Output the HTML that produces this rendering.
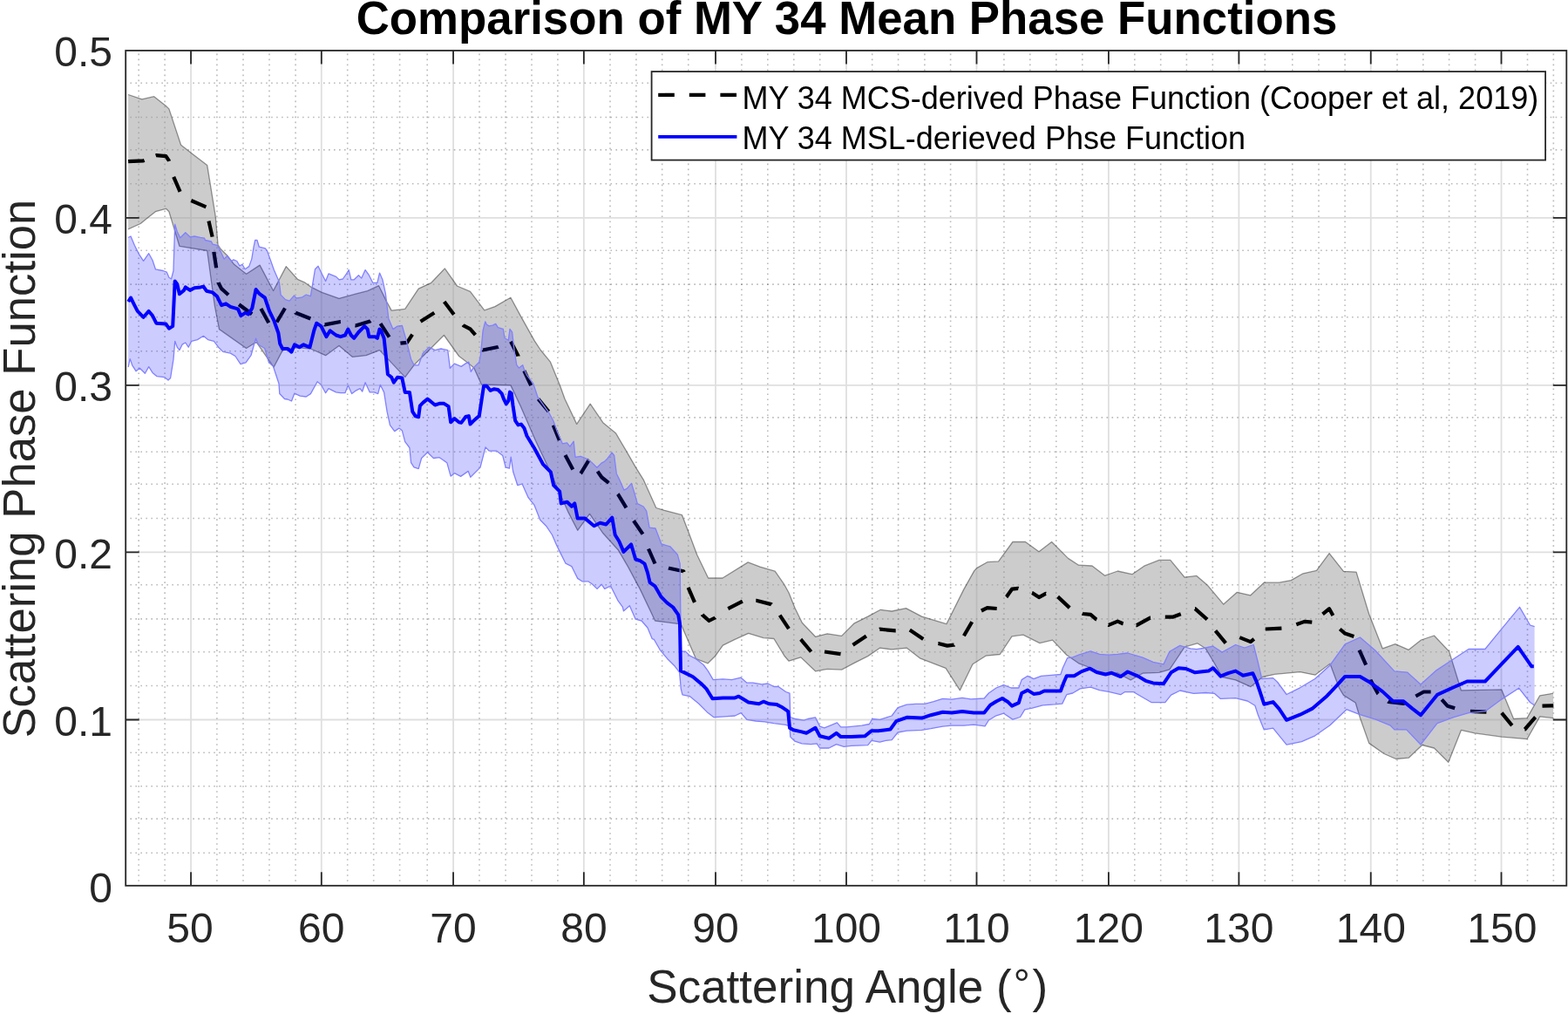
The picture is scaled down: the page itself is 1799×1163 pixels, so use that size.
<!DOCTYPE html>
<html><head><meta charset="utf-8"><title>Comparison of MY 34 Mean Phase Functions</title><style>html,body{margin:0;padding:0;background:#fff;width:1799px;height:1163px;overflow:hidden}</style></head><body>
<svg width="1799" height="1163" viewBox="0 0 1799 1163" style="display:block">
<rect x="0" y="0" width="1799" height="1163" fill="#fff"/>
<path d="M159.15 58.00V1015.80M189.10 58.00V1015.80M248.90 58.00V1015.80M279.00 58.00V1015.80M309.00 58.00V1015.80M339.10 58.00V1015.80M398.70 58.00V1015.80M428.70 58.00V1015.80M458.60 58.00V1015.80M490.20 58.00V1015.80M550.00 58.00V1015.80M580.10 58.00V1015.80M610.00 58.00V1015.80M639.90 58.00V1015.80M700.00 58.00V1015.80M729.90 58.00V1015.80M759.70 58.00V1015.80M789.75 58.00V1015.80M850.90 58.00V1015.80M880.80 58.00V1015.80M910.80 58.00V1015.80M940.70 58.00V1015.80M1000.70 58.00V1015.80M1030.60 58.00V1015.80M1060.90 58.00V1015.80M1090.60 58.00V1015.80M1151.90 58.00V1015.80M1181.80 58.00V1015.80M1211.80 58.00V1015.80M1241.80 58.00V1015.80M1301.80 58.00V1015.80M1331.70 58.00V1015.80M1361.40 58.00V1015.80M1391.30 58.00V1015.80M1451.30 58.00V1015.80M1482.80 58.00V1015.80M1513.00 58.00V1015.80M1543.10 58.00V1015.80M1603.00 58.00V1015.80M1632.80 58.00V1015.80M1662.60 58.00V1015.80M1692.60 58.00V1015.80M1752.50 58.00V1015.80M1782.35 58.00V1015.80" fill="none" stroke="#1a1a1a" stroke-opacity="0.3" stroke-width="1.6" stroke-dasharray="1.6 4.397" stroke-dashoffset="2.38"/>
<path d="M144.20 978.30H1797.30M144.20 939.15H1797.30M144.20 901.80H1797.30M144.20 863.30H1797.30M144.20 786.50H1797.30M144.20 747.80H1797.30M144.20 709.90H1797.30M144.20 670.70H1797.30M144.20 594.50H1797.30M144.20 555.30H1797.30M144.20 518.20H1797.30M144.20 478.90H1797.30M144.20 402.80H1797.30M144.20 363.80H1797.30M144.20 326.15H1797.30M144.20 287.20H1797.30M144.20 210.80H1797.30M144.20 171.90H1797.30M144.20 134.50H1797.30M144.20 95.20H1797.30" fill="none" stroke="#1a1a1a" stroke-opacity="0.3" stroke-width="1.6" stroke-dasharray="1.6 4.39" stroke-dashoffset="0.8"/>
<path d="M219.05 1015.80V58.00M368.80 1015.80V58.00M520.05 1015.80V58.00M669.85 1015.80V58.00M821.00 1015.80V58.00M971.00 1015.80V58.00M1120.50 1015.80V58.00M1271.90 1015.80V58.00M1421.40 1015.80V58.00M1572.75 1015.80V58.00M1722.50 1015.80V58.00M144.20 825.50H1797.30M144.20 633.40H1797.30M144.20 441.90H1797.30M144.20 249.85H1797.30" fill="none" stroke="#262626" stroke-opacity="0.15" stroke-width="1.8"/>
<polygon points="147.1,108.5 162.9,113.8 176.7,110.7 190.4,121.5 193.9,124.9 207.6,166.2 219.7,175.7 237.7,189.4 247.2,247.9 250.1,280.9 253.2,285.5 260.9,293.3 268.7,303.3 282.6,314.2 298.1,304.1 313.6,333.5 328.3,305.6 341.4,320.3 350.0,324.2 357.2,329.4 369.3,335.4 389.0,342.3 408.0,337.2 421.7,333.7 434.6,327.7 444.0,346.6 449.2,356.1 464.7,354.4 480.2,331.1 494.8,324.3 510.3,307.9 524.5,328.0 539.5,334.4 555.8,355.9 567.9,351.6 585.9,341.3 598.0,363.6 613.4,391.1 620.3,401.5 631.5,415.2 642.7,442.7 647.9,457.2 661.7,486.4 677.2,463.2 691.8,484.7 706.4,496.7 717.6,515.7 729.6,536.3 738.2,550.1 752.8,582.5 762.3,585.3 782.5,590.7 789.4,608.8 799.7,636.3 812.6,663.0 829.0,663.0 858.2,644.9 872.0,650.1 889.2,655.2 900.0,670.7 905.1,680.0 912.0,697.2 920.3,714.2 935.5,730.3 949.2,726.8 965.6,729.4 980.2,714.8 995.7,707.1 1010.3,699.3 1023.2,701.0 1039.5,697.6 1057.6,707.1 1085.9,715.7 1105.7,676.1 1117.8,654.6 1120.6,651.6 1132.7,644.7 1145.6,643.9 1161.9,621.5 1176.5,621.5 1192.0,632.7 1206.6,621.5 1225.5,640.4 1237.6,648.2 1253.0,649.0 1267.7,660.2 1282.3,655.0 1298.9,658.7 1312.7,649.2 1329.9,642.4 1342.8,642.4 1359.1,662.1 1372.9,660.4 1384.9,670.7 1403.8,693.1 1419.3,679.3 1434.8,682.8 1450.2,668.2 1467.5,668.2 1481.3,665.6 1495.0,657.8 1510.5,654.4 1525.1,634.6 1541.5,655.3 1556.1,656.1 1570.7,704.3 1586.2,743.8 1600.8,738.7 1616.2,745.3 1630.5,734.0 1645.4,729.0 1662.6,747.1 1676.4,791.8 1722.8,790.9 1736.6,824.5 1752.0,823.6 1766.7,797.8 1782.1,795.2 1782.1,823.6 1766.7,821.9 1752.0,847.7 1722.8,845.1 1691.9,840.8 1676.4,837.4 1661.8,874.3 1645.4,858.0 1631.7,854.5 1616.2,869.2 1601.6,870.5 1587.9,864.5 1570.7,852.4 1560.4,823.2 1555.2,806.0 1541.5,797.4 1536.3,788.8 1526.0,761.3 1508.8,774.2 1491.6,770.7 1462.4,773.3 1448.5,776.5 1434.8,787.7 1417.6,779.9 1402.1,776.5 1393.5,761.0 1383.2,743.8 1373.7,737.8 1359.1,742.1 1341.9,767.9 1329.9,771.3 1311.0,772.2 1297.2,780.0 1282.3,772.0 1265.1,773.7 1251.3,766.0 1237.6,760.8 1223.8,751.3 1207.5,734.1 1192.9,737.6 1173.9,728.1 1161.0,729.8 1147.3,750.5 1131.0,752.2 1116.0,761.7 1101.4,791.8 1085.1,766.4 1055.9,755.2 1040.4,743.2 1023.2,744.9 1009.4,743.2 995.7,752.6 980.2,760.4 965.6,768.1 949.2,767.3 935.5,769.8 918.8,753.9 905.1,758.2 899.9,752.2 887.9,732.5 875.9,731.6 858.7,726.4 843.2,733.3 829.4,740.2 820.8,752.2 812.2,760.8 798.5,755.7 781.3,716.1 777.4,715.4 751.6,712.0 734.4,675.9 720.6,650.1 709.2,630.7 692.0,611.8 676.5,589.4 662.7,608.3 652.2,587.9 645.5,573.0 629.9,538.0 614.4,505.3 597.2,465.8 585.9,441.9 552.4,441.0 543.8,422.1 537.8,416.9 526.6,408.5 509.4,384.5 475.0,418.8 464.7,432.6 435.5,401.6 420.0,407.7 404.5,409.4 389.0,396.5 373.6,407.7 356.4,400.0 346.0,399.1 339.2,398.9 324.2,401.9 314.0,421.2 294.1,392.3 282.6,399.5 251.5,377.6 246.2,350.0 237.7,287.5 205.9,282.3 193.9,242.7 190.4,239.3 178.4,242.7 169.8,249.6 161.2,256.5 147.1,262.8" fill="#999999" fill-opacity="0.5"/>
<path d="M147.1,108.5 162.9,113.8 176.7,110.7 190.4,121.5 193.9,124.9 207.6,166.2 219.7,175.7 237.7,189.4 247.2,247.9 250.1,280.9 253.2,285.5 260.9,293.3 268.7,303.3 282.6,314.2 298.1,304.1 313.6,333.5 328.3,305.6 341.4,320.3 350.0,324.2 357.2,329.4 369.3,335.4 389.0,342.3 408.0,337.2 421.7,333.7 434.6,327.7 444.0,346.6 449.2,356.1 464.7,354.4 480.2,331.1 494.8,324.3 510.3,307.9 524.5,328.0 539.5,334.4 555.8,355.9 567.9,351.6 585.9,341.3 598.0,363.6 613.4,391.1 620.3,401.5 631.5,415.2 642.7,442.7 647.9,457.2 661.7,486.4 677.2,463.2 691.8,484.7 706.4,496.7 717.6,515.7 729.6,536.3 738.2,550.1 752.8,582.5 762.3,585.3 782.5,590.7 789.4,608.8 799.7,636.3 812.6,663.0 829.0,663.0 858.2,644.9 872.0,650.1 889.2,655.2 900.0,670.7 905.1,680.0 912.0,697.2 920.3,714.2 935.5,730.3 949.2,726.8 965.6,729.4 980.2,714.8 995.7,707.1 1010.3,699.3 1023.2,701.0 1039.5,697.6 1057.6,707.1 1085.9,715.7 1105.7,676.1 1117.8,654.6 1120.6,651.6 1132.7,644.7 1145.6,643.9 1161.9,621.5 1176.5,621.5 1192.0,632.7 1206.6,621.5 1225.5,640.4 1237.6,648.2 1253.0,649.0 1267.7,660.2 1282.3,655.0 1298.9,658.7 1312.7,649.2 1329.9,642.4 1342.8,642.4 1359.1,662.1 1372.9,660.4 1384.9,670.7 1403.8,693.1 1419.3,679.3 1434.8,682.8 1450.2,668.2 1467.5,668.2 1481.3,665.6 1495.0,657.8 1510.5,654.4 1525.1,634.6 1541.5,655.3 1556.1,656.1 1570.7,704.3 1586.2,743.8 1600.8,738.7 1616.2,745.3 1630.5,734.0 1645.4,729.0 1662.6,747.1 1676.4,791.8 1722.8,790.9 1736.6,824.5 1752.0,823.6 1766.7,797.8 1782.1,795.2M147.1,262.8 161.2,256.5 169.8,249.6 178.4,242.7 190.4,239.3 193.9,242.7 205.9,282.3 237.7,287.5 246.2,350.0 251.5,377.6 282.6,399.5 294.1,392.3 314.0,421.2 324.2,401.9 339.2,398.9 346.0,399.1 356.4,400.0 373.6,407.7 389.0,396.5 404.5,409.4 420.0,407.7 435.5,401.6 464.7,432.6 475.0,418.8 509.4,384.5 526.6,408.5 537.8,416.9 543.8,422.1 552.4,441.0 585.9,441.9 597.2,465.8 614.4,505.3 629.9,538.0 645.5,573.0 652.2,587.9 662.7,608.3 676.5,589.4 692.0,611.8 709.2,630.7 720.6,650.1 734.4,675.9 751.6,712.0 777.4,715.4 781.3,716.1 798.5,755.7 812.2,760.8 820.8,752.2 829.4,740.2 843.2,733.3 858.7,726.4 875.9,731.6 887.9,732.5 899.9,752.2 905.1,758.2 918.8,753.9 935.5,769.8 949.2,767.3 965.6,768.1 980.2,760.4 995.7,752.6 1009.4,743.2 1023.2,744.9 1040.4,743.2 1055.9,755.2 1085.1,766.4 1101.4,791.8 1116.0,761.7 1131.0,752.2 1147.3,750.5 1161.0,729.8 1173.9,728.1 1192.9,737.6 1207.5,734.1 1223.8,751.3 1237.6,760.8 1251.3,766.0 1265.1,773.7 1282.3,772.0 1297.2,780.0 1311.0,772.2 1329.9,771.3 1341.9,767.9 1359.1,742.1 1373.7,737.8 1383.2,743.8 1393.5,761.0 1402.1,776.5 1417.6,779.9 1434.8,787.7 1448.5,776.5 1462.4,773.3 1491.6,770.7 1508.8,774.2 1526.0,761.3 1536.3,788.8 1541.5,797.4 1555.2,806.0 1560.4,823.2 1570.7,852.4 1587.9,864.5 1601.6,870.5 1616.2,869.2 1631.7,854.5 1645.4,858.0 1661.8,874.3 1676.4,837.4 1691.9,840.8 1722.8,845.1 1752.0,847.7 1766.7,821.9 1782.1,823.6" fill="none" stroke="#000" stroke-opacity="0.4" stroke-width="1.3" stroke-linejoin="round"/>
<path d="M147.1,185.2 164.6,184.3 165.6,183.9M178.7,178.4 179.3,178.2 190.4,179.1 193.9,184.3 194.1,184.9M199.2,202.8 206.6,219.9M219.3,230.0 236.4,237.4M239.5,253.5 243.6,271.6M245.4,288.9 245.5,289.9 248.0,306.2 248.1,307.2M250.6,324.0 250.6,324.3 254.1,331.1 261.8,338.0 262.0,338.2M274.1,349.2 274.5,349.5 289.1,360.2M299.4,354.0 308.3,370.3M317.5,369.5 327.0,353.5M339.1,358.5 339.2,358.7 356.3,365.5M372.6,372.3 372.7,372.4 390.7,369.0 390.8,369.0M407.5,373.4 408.0,373.5 424.5,368.5 425.2,368.0M436.5,371.1 446.6,386.7M459.4,393.6 467.0,392.8 473.1,383.7M482.5,368.7 498.3,358.7M509.7,346.0 520.8,360.8M531.3,372.7 531.8,373.3 539.5,377.4 545.4,384.2M553.7,401.2 554.1,401.5 571.3,398.0 571.8,397.8M586.1,391.8 594.5,408.3 594.5,408.4M601.3,425.3 601.4,425.5 609.1,441.9 609.2,442.1M617.6,457.7 629.5,472.0M634.8,487.7 635.0,488.2 641.8,505.0M648.5,522.0 657.3,538.4M666.2,543.1 666.3,543.0 675.8,527.4 675.9,527.3M685.6,540.6 690.4,547.5 698.4,553.9M708.8,566.6 709.2,567.1 718.5,582.4M727.0,597.2 737.5,612.6M744.0,629.5 751.5,646.5M767.0,651.5 767.9,651.8 784.3,655.2 784.6,656.1M789.6,673.8 797.0,690.8M805.7,704.9 805.8,705.1 813.5,712.0 820.4,708.5 820.6,708.3M835.3,698.1 851.9,689.7M867.3,688.8 867.7,688.8 884.9,693.1 885.2,693.4M894.7,705.6 905.0,721.1M918.7,733.2 918.8,733.3 930.6,747.5M946.0,747.5 964.5,750.1M978.5,739.7 978.5,739.7 993.9,729.4 993.9,729.4M1009.2,721.8 1009.4,721.7 1027.5,723.4 1027.7,723.4M1043.8,722.5 1059.3,732.9M1076.4,738.0 1076.5,738.0 1086.8,740.6 1094.5,739.7 1094.6,739.6M1105.9,729.3 1115.2,713.2M1125.9,700.5 1132.7,697.2 1143.7,698.0M1154.6,684.7 1155.0,684.3 1161.0,675.7 1167.9,674.8 1168.5,675.0M1184.0,679.9 1184.3,680.0 1192.0,685.1 1199.7,680.8 1200.0,680.9M1213.6,684.4 1227.2,697.1M1241.8,703.6 1242.7,704.0 1251.3,704.9 1257.4,710.1 1258.3,710.5M1271.6,716.7 1272.0,716.9 1282.3,712.6 1288.3,715.2 1288.7,715.3M1303.7,717.1 1304.1,717.2 1319.6,708.6 1320.0,708.6M1336.8,707.7 1336.8,707.7 1345.3,707.7 1354.8,704.3 1354.8,704.3M1371.0,698.2 1371.1,698.2 1384.9,710.3 1385.0,710.4M1394.5,723.3 1406.3,737.7M1422.3,731.1 1434.8,736.1 1438.8,732.9M1451.8,721.5 1470.4,720.6M1487.3,716.3 1496.7,712.9 1505.3,713.7M1517.5,704.3 1525.1,698.2 1529.4,705.9M1537.3,721.5 1543.2,726.6 1553.4,730.1M1559.6,745.6 1567.2,762.6M1572.3,779.5 1572.4,779.9 1581.0,795.4 1581.3,795.7M1592.5,804.5 1593.0,804.9 1610.5,807.0 1610.8,806.8M1624.3,798.5 1633.4,793.5 1641.6,793.5M1654.2,802.4 1660.9,809.8 1669.2,812.3M1686.9,815.9 1705.4,816.7M1722.9,817.7 1734.8,832.1M1749.4,836.5 1749.5,836.5 1761.5,822.7 1761.6,822.6M1769.5,809.6 1782.3,809.3" fill="none" stroke="#000" stroke-width="4.2" stroke-linejoin="round"/>
<polygon points="147.1,272.5 150.0,271.0 154.3,281.3 159.5,291.6 164.6,299.3 170.7,290.7 175.0,298.5 178.4,308.8 187.0,310.5 191.3,312.2 193.9,318.2 196.5,320.0 199.0,310.5 200.7,257.2 203.3,265.8 206.8,272.7 212.8,266.7 218.0,271.8 223.1,271.0 230.0,272.4 234.6,273.2 235.4,275.5 242.4,277.0 243.9,280.1 249.3,281.3 253.2,288.6 257.1,297.1 260.9,293.3 265.6,299.5 267.9,297.9 271.8,299.5 274.9,304.9 278.0,303.3 281.1,308.7 285.7,305.6 288.8,297.1 291.1,283.2 292.7,275.5 295.0,275.5 297.3,283.2 304.3,284.8 306.6,287.9 310.5,298.7 314.3,309.5 319.0,320.3 320.5,324.2 322.1,338.1 327.5,343.6 332.1,345.1 337.5,338.9 339.9,342.0 346.1,341.2 351.2,338.0 356.4,339.7 361.5,308.8 365.0,305.3 368.4,312.2 373.6,322.5 377.0,313.9 385.6,317.4 389.0,320.8 393.3,320.0 397.6,313.9 400.2,309.6 402.8,320.8 406.2,320.8 411.4,315.7 414.8,319.1 419.1,309.6 423.4,315.7 427.7,324.3 432.9,324.3 435.5,313.1 438.9,320.8 442.3,336.3 445.8,365.5 450.9,377.6 456.1,374.1 461.3,373.3 466.4,391.3 471.6,412.0 475.0,418.8 480.2,418.8 485.3,405.1 492.2,398.2 499.1,401.6 506.0,400.0 513.7,401.6 516.3,422.3 521.4,417.1 529.2,420.4 534.3,416.9 537.8,415.2 540.3,426.4 542.9,422.1 549.8,415.2 551.5,406.6 554.1,379.1 556.7,368.8 558.4,372.2 561.0,373.9 565.3,373.1 568.7,371.4 571.3,375.7 577.3,377.4 579.0,387.7 583.3,390.3 585.0,377.4 587.6,380.8 590.2,403.2 592.8,418.7 595.4,422.1 599.7,418.7 601.4,423.8 604.8,430.7 611.8,440.0 617.0,455.5 629.9,473.5 635.0,483.0 639.3,495.0 645.3,508.8 650.5,507.9 653.9,512.2 658.2,506.2 660.0,524.3 666.0,523.4 672.9,526.0 679.7,531.1 684.9,536.3 690.1,531.1 693.5,529.4 696.9,526.0 702.1,519.1 704.7,522.5 707.3,543.2 710.7,550.1 715.9,562.1 719.3,560.4 724.5,554.4 727.9,565.5 731.3,577.6 738.2,581.0 741.7,586.2 745.1,605.1 752.0,606.0 758.9,624.0 768.8,626.8 777.4,636.3 780.2,646.6 780.8,700.0 781.5,747.1 786.4,747.1 791.6,752.2 798.5,755.7 807.1,762.5 812.2,769.4 818.2,779.7 829.4,778.9 839.7,779.7 850.1,777.2 856.9,783.2 863.8,783.2 874.1,784.9 881.0,784.0 887.9,787.5 893.0,787.5 901.6,793.5 906.0,795.2 906.8,822.7 912.0,824.5 922.3,826.2 926.9,824.5 935.5,822.8 940.6,833.1 945.8,834.8 954.4,831.4 960.4,828.8 964.7,833.9 971.6,833.9 988.8,832.2 997.4,830.5 1000.8,824.5 1009.4,825.3 1023.2,821.0 1030.1,811.6 1040.4,808.2 1050.7,807.3 1061.0,807.3 1071.3,804.7 1081.6,801.3 1092.0,802.1 1104.0,800.4 1113.8,801.9 1129.2,801.0 1134.4,795.0 1143.0,789.0 1151.6,785.6 1160.2,789.0 1168.8,789.0 1172.2,779.6 1179.1,775.3 1186.0,778.7 1194.6,775.3 1206.6,774.4 1216.9,773.5 1219.5,765.8 1224.7,754.6 1230.7,753.8 1237.6,751.2 1251.3,746.9 1261.6,750.3 1272.0,751.2 1282.3,750.3 1293.8,749.0 1311.0,754.1 1323.0,759.3 1335.0,761.9 1341.9,747.3 1353.9,740.4 1359.1,742.1 1366.0,743.8 1372.9,744.7 1383.2,743.0 1391.8,741.2 1402.1,748.1 1417.6,739.5 1427.9,743.0 1438.2,739.5 1443.4,760.0 1447.7,778.5 1460.6,777.6 1465.8,782.5 1476.1,796.5 1491.6,788.8 1508.8,778.5 1526.0,763.0 1543.2,738.9 1560.4,731.0 1577.6,745.8 1599.9,769.9 1614.5,771.1 1630.0,785.0 1647.2,769.4 1667.8,755.7 1685.0,744.5 1703.9,744.5 1722.8,721.3 1743.5,696.3 1755.5,717.0 1760.6,718.7 1760.6,809.0 1755.5,805.5 1742.6,789.2 1722.8,802.1 1703.9,815.9 1685.0,817.6 1667.8,822.7 1648.9,829.6 1630.0,854.0 1613.7,836.9 1599.9,836.9 1594.8,831.8 1577.6,824.9 1560.4,819.7 1544.9,813.7 1526.0,831.8 1508.8,843.8 1493.3,850.7 1476.1,854.1 1460.6,835.2 1450.3,836.9 1443.4,820.0 1439.9,809.2 1431.3,804.0 1417.6,800.6 1400.4,801.4 1393.5,795.4 1383.2,794.5 1369.4,795.4 1353.9,792.0 1343.6,797.1 1336.8,805.7 1321.3,805.7 1309.2,798.8 1300.6,793.7 1290.3,793.7 1285.7,796.7 1272.0,793.3 1261.6,791.6 1251.3,788.2 1239.3,789.9 1230.7,795.0 1223.8,796.7 1218.7,807.1 1210.1,807.9 1196.3,808.8 1184.3,812.2 1175.7,813.9 1170.5,822.5 1161.9,825.1 1151.6,818.2 1143.0,820.8 1134.4,826.0 1130.1,832.9 1117.2,831.1 1105.7,832.2 1092.0,832.2 1081.6,833.1 1067.9,835.7 1057.6,837.4 1040.4,838.2 1030.1,840.0 1023.2,848.6 1016.3,849.4 1009.4,851.1 1000.0,849.4 995.7,854.6 976.7,855.4 968.2,856.3 959.6,853.7 951.0,858.0 940.6,858.0 937.2,852.9 930.3,853.7 920.0,852.9 912.0,850.2 906.8,845.1 906.0,833.0 901.6,831.3 887.9,829.6 877.6,827.9 867.3,827.0 856.9,825.3 850.1,817.6 843.2,821.0 831.1,821.9 819.1,822.7 812.2,817.6 801.9,807.3 791.6,798.7 783.0,796.9 781.3,790.1 779.6,771.1 774.4,764.3 765.8,755.7 757.2,745.3 750.3,733.3 748.2,732.6 743.0,720.0 736.1,712.0 729.2,710.2 722.4,694.8 715.5,700.8 714.3,696.1 709.2,689.2 705.7,682.3 700.6,672.0 693.7,675.4 690.2,670.2 685.1,675.4 679.9,670.2 674.8,666.8 667.9,666.8 662.7,663.4 659.3,656.5 655.9,649.6 649.0,646.2 643.8,635.9 638.7,625.5 633.5,613.5 626.6,603.2 619.7,596.3 612.9,579.1 606.0,570.5 599.1,555.0 593.9,556.7 588.8,541.3 586.2,524.1 584.5,537.0 580.2,536.1 576.7,522.4 569.9,517.2 561.3,517.2 557.0,512.9 551.0,536.1 539.8,547.3 537.2,540.4 528.6,546.4 521.4,542.7 517.1,546.2 512.8,530.7 504.2,524.7 497.4,525.5 490.5,518.7 483.6,525.5 480.2,537.6 475.0,535.9 471.6,530.7 469.9,513.5 464.7,506.6 461.3,493.7 457.8,491.1 452.7,494.6 447.5,487.7 444.1,472.2 440.6,449.9 436.3,441.3 433.7,451.6 429.4,449.9 424.3,449.9 419.1,438.7 415.7,449.0 413.1,445.6 408.0,448.2 403.6,451.6 399.3,442.1 395.9,450.7 390.7,450.7 385.6,449.9 377.0,445.6 373.6,450.7 368.4,441.3 364.1,437.8 356.4,451.6 351.2,455.0 344.3,454.2 337.8,451.2 334.5,460.0 330.0,458.0 326.5,457.5 320.8,451.5 320.0,440.0 313.4,420.0 308.5,415.8 303.7,399.5 296.5,395.3 293.5,388.1 288.1,407.3 282.0,415.8 276.0,417.6 270.0,408.5 264.4,405.1 255.8,403.4 250.6,398.2 245.5,391.3 238.6,389.6 233.4,385.3 226.5,389.6 219.7,391.3 216.2,398.2 212.8,393.0 209.3,394.8 205.9,401.6 203.3,398.2 200.7,391.3 199.0,412.0 195.6,433.5 193.0,436.0 188.7,432.6 180.1,431.7 175.0,427.4 170.7,420.6 166.4,428.3 160.3,422.3 156.0,425.7 151.7,418.8 149.2,411.6 147.1,421.0" fill="#0000ff" fill-opacity="0.2"/>
<path d="M147.1,272.5 150.0,271.0 154.3,281.3 159.5,291.6 164.6,299.3 170.7,290.7 175.0,298.5 178.4,308.8 187.0,310.5 191.3,312.2 193.9,318.2 196.5,320.0 199.0,310.5 200.7,257.2 203.3,265.8 206.8,272.7 212.8,266.7 218.0,271.8 223.1,271.0 230.0,272.4 234.6,273.2 235.4,275.5 242.4,277.0 243.9,280.1 249.3,281.3 253.2,288.6 257.1,297.1 260.9,293.3 265.6,299.5 267.9,297.9 271.8,299.5 274.9,304.9 278.0,303.3 281.1,308.7 285.7,305.6 288.8,297.1 291.1,283.2 292.7,275.5 295.0,275.5 297.3,283.2 304.3,284.8 306.6,287.9 310.5,298.7 314.3,309.5 319.0,320.3 320.5,324.2 322.1,338.1 327.5,343.6 332.1,345.1 337.5,338.9 339.9,342.0 346.1,341.2 351.2,338.0 356.4,339.7 361.5,308.8 365.0,305.3 368.4,312.2 373.6,322.5 377.0,313.9 385.6,317.4 389.0,320.8 393.3,320.0 397.6,313.9 400.2,309.6 402.8,320.8 406.2,320.8 411.4,315.7 414.8,319.1 419.1,309.6 423.4,315.7 427.7,324.3 432.9,324.3 435.5,313.1 438.9,320.8 442.3,336.3 445.8,365.5 450.9,377.6 456.1,374.1 461.3,373.3 466.4,391.3 471.6,412.0 475.0,418.8 480.2,418.8 485.3,405.1 492.2,398.2 499.1,401.6 506.0,400.0 513.7,401.6 516.3,422.3 521.4,417.1 529.2,420.4 534.3,416.9 537.8,415.2 540.3,426.4 542.9,422.1 549.8,415.2 551.5,406.6 554.1,379.1 556.7,368.8 558.4,372.2 561.0,373.9 565.3,373.1 568.7,371.4 571.3,375.7 577.3,377.4 579.0,387.7 583.3,390.3 585.0,377.4 587.6,380.8 590.2,403.2 592.8,418.7 595.4,422.1 599.7,418.7 601.4,423.8 604.8,430.7 611.8,440.0 617.0,455.5 629.9,473.5 635.0,483.0 639.3,495.0 645.3,508.8 650.5,507.9 653.9,512.2 658.2,506.2 660.0,524.3 666.0,523.4 672.9,526.0 679.7,531.1 684.9,536.3 690.1,531.1 693.5,529.4 696.9,526.0 702.1,519.1 704.7,522.5 707.3,543.2 710.7,550.1 715.9,562.1 719.3,560.4 724.5,554.4 727.9,565.5 731.3,577.6 738.2,581.0 741.7,586.2 745.1,605.1 752.0,606.0 758.9,624.0 768.8,626.8 777.4,636.3 780.2,646.6 780.8,700.0 781.5,747.1 786.4,747.1 791.6,752.2 798.5,755.7 807.1,762.5 812.2,769.4 818.2,779.7 829.4,778.9 839.7,779.7 850.1,777.2 856.9,783.2 863.8,783.2 874.1,784.9 881.0,784.0 887.9,787.5 893.0,787.5 901.6,793.5 906.0,795.2 906.8,822.7 912.0,824.5 922.3,826.2 926.9,824.5 935.5,822.8 940.6,833.1 945.8,834.8 954.4,831.4 960.4,828.8 964.7,833.9 971.6,833.9 988.8,832.2 997.4,830.5 1000.8,824.5 1009.4,825.3 1023.2,821.0 1030.1,811.6 1040.4,808.2 1050.7,807.3 1061.0,807.3 1071.3,804.7 1081.6,801.3 1092.0,802.1 1104.0,800.4 1113.8,801.9 1129.2,801.0 1134.4,795.0 1143.0,789.0 1151.6,785.6 1160.2,789.0 1168.8,789.0 1172.2,779.6 1179.1,775.3 1186.0,778.7 1194.6,775.3 1206.6,774.4 1216.9,773.5 1219.5,765.8 1224.7,754.6 1230.7,753.8 1237.6,751.2 1251.3,746.9 1261.6,750.3 1272.0,751.2 1282.3,750.3 1293.8,749.0 1311.0,754.1 1323.0,759.3 1335.0,761.9 1341.9,747.3 1353.9,740.4 1359.1,742.1 1366.0,743.8 1372.9,744.7 1383.2,743.0 1391.8,741.2 1402.1,748.1 1417.6,739.5 1427.9,743.0 1438.2,739.5 1443.4,760.0 1447.7,778.5 1460.6,777.6 1465.8,782.5 1476.1,796.5 1491.6,788.8 1508.8,778.5 1526.0,763.0 1543.2,738.9 1560.4,731.0 1577.6,745.8 1599.9,769.9 1614.5,771.1 1630.0,785.0 1647.2,769.4 1667.8,755.7 1685.0,744.5 1703.9,744.5 1722.8,721.3 1743.5,696.3 1755.5,717.0 1760.6,718.7M147.1,421.0 149.2,411.6 151.7,418.8 156.0,425.7 160.3,422.3 166.4,428.3 170.7,420.6 175.0,427.4 180.1,431.7 188.7,432.6 193.0,436.0 195.6,433.5 199.0,412.0 200.7,391.3 203.3,398.2 205.9,401.6 209.3,394.8 212.8,393.0 216.2,398.2 219.7,391.3 226.5,389.6 233.4,385.3 238.6,389.6 245.5,391.3 250.6,398.2 255.8,403.4 264.4,405.1 270.0,408.5 276.0,417.6 282.0,415.8 288.1,407.3 293.5,388.1 296.5,395.3 303.7,399.5 308.5,415.8 313.4,420.0 320.0,440.0 320.8,451.5 326.5,457.5 330.0,458.0 334.5,460.0 337.8,451.2 344.3,454.2 351.2,455.0 356.4,451.6 364.1,437.8 368.4,441.3 373.6,450.7 377.0,445.6 385.6,449.9 390.7,450.7 395.9,450.7 399.3,442.1 403.6,451.6 408.0,448.2 413.1,445.6 415.7,449.0 419.1,438.7 424.3,449.9 429.4,449.9 433.7,451.6 436.3,441.3 440.6,449.9 444.1,472.2 447.5,487.7 452.7,494.6 457.8,491.1 461.3,493.7 464.7,506.6 469.9,513.5 471.6,530.7 475.0,535.9 480.2,537.6 483.6,525.5 490.5,518.7 497.4,525.5 504.2,524.7 512.8,530.7 517.1,546.2 521.4,542.7 528.6,546.4 537.2,540.4 539.8,547.3 551.0,536.1 557.0,512.9 561.3,517.2 569.9,517.2 576.7,522.4 580.2,536.1 584.5,537.0 586.2,524.1 588.8,541.3 593.9,556.7 599.1,555.0 606.0,570.5 612.9,579.1 619.7,596.3 626.6,603.2 633.5,613.5 638.7,625.5 643.8,635.9 649.0,646.2 655.9,649.6 659.3,656.5 662.7,663.4 667.9,666.8 674.8,666.8 679.9,670.2 685.1,675.4 690.2,670.2 693.7,675.4 700.6,672.0 705.7,682.3 709.2,689.2 714.3,696.1 715.5,700.8 722.4,694.8 729.2,710.2 736.1,712.0 743.0,720.0 748.2,732.6 750.3,733.3 757.2,745.3 765.8,755.7 774.4,764.3 779.6,771.1 781.3,790.1 783.0,796.9 791.6,798.7 801.9,807.3 812.2,817.6 819.1,822.7 831.1,821.9 843.2,821.0 850.1,817.6 856.9,825.3 867.3,827.0 877.6,827.9 887.9,829.6 901.6,831.3 906.0,833.0 906.8,845.1 912.0,850.2 920.0,852.9 930.3,853.7 937.2,852.9 940.6,858.0 951.0,858.0 959.6,853.7 968.2,856.3 976.7,855.4 995.7,854.6 1000.0,849.4 1009.4,851.1 1016.3,849.4 1023.2,848.6 1030.1,840.0 1040.4,838.2 1057.6,837.4 1067.9,835.7 1081.6,833.1 1092.0,832.2 1105.7,832.2 1117.2,831.1 1130.1,832.9 1134.4,826.0 1143.0,820.8 1151.6,818.2 1161.9,825.1 1170.5,822.5 1175.7,813.9 1184.3,812.2 1196.3,808.8 1210.1,807.9 1218.7,807.1 1223.8,796.7 1230.7,795.0 1239.3,789.9 1251.3,788.2 1261.6,791.6 1272.0,793.3 1285.7,796.7 1290.3,793.7 1300.6,793.7 1309.2,798.8 1321.3,805.7 1336.8,805.7 1343.6,797.1 1353.9,792.0 1369.4,795.4 1383.2,794.5 1393.5,795.4 1400.4,801.4 1417.6,800.6 1431.3,804.0 1439.9,809.2 1443.4,820.0 1450.3,836.9 1460.6,835.2 1476.1,854.1 1493.3,850.7 1508.8,843.8 1526.0,831.8 1544.9,813.7 1560.4,819.7 1577.6,824.9 1594.8,831.8 1599.9,836.9 1613.7,836.9 1630.0,854.0 1648.9,829.6 1667.8,822.7 1685.0,817.6 1703.9,815.9 1722.8,802.1 1742.6,789.2 1755.5,805.5 1760.6,809.0" fill="none" stroke="#8080ff" stroke-width="1.3" stroke-linejoin="round"/>
<polyline points="147.1,346.0 150.0,341.5 154.3,350.1 157.8,356.9 164.6,363.8 170.7,356.9 175.0,362.1 179.3,370.7 190.4,371.6 193.9,376.7 198.2,374.1 200.7,322.5 203.3,326.0 205.9,337.2 211.1,332.9 212.8,329.4 218.0,332.9 223.1,330.3 230.0,329.4 233.4,328.6 236.9,333.7 243.7,335.4 248.9,339.7 254.1,350.1 259.2,348.3 264.4,351.8 273.0,354.4 276.4,362.1 281.6,358.7 285.0,360.4 289.3,353.5 293.6,332.0 297.9,337.2 303.9,341.5 309.1,356.9 314.2,367.3 319.4,382.0 321.2,394.1 324.2,400.1 330.2,400.1 334.4,403.7 338.0,395.3 343.5,398.3 348.3,395.3 355.5,398.3 360.3,379.0 363.2,370.7 368.4,374.1 374.4,386.2 378.7,379.3 385.6,384.5 390.7,386.2 395.9,384.5 399.3,377.6 402.8,384.5 406.2,387.9 411.4,381.0 418.3,374.1 421.7,377.6 423.4,386.2 430.3,386.2 432.9,387.9 435.5,377.6 437.2,379.3 440.6,387.9 443.2,412.0 444.9,429.2 449.2,432.7 451.8,438.7 456.1,432.7 461.3,433.5 464.7,449.9 469.9,449.9 473.3,472.2 476.7,477.4 480.2,478.2 481.9,465.3 485.3,461.9 490.5,457.6 493.9,460.2 499.1,464.5 504.2,462.8 509.4,462.8 514.6,466.2 517.1,484.3 521.4,480.0 526.6,484.3 529.2,484.9 534.3,478.0 537.8,477.1 539.5,486.6 542.9,483.1 549.8,477.1 552.4,459.9 555.0,442.7 558.4,442.7 562.7,447.9 567.0,446.2 571.3,447.0 575.6,451.3 578.2,458.2 580.8,463.4 583.3,459.9 585.0,449.6 586.8,451.3 588.5,465.1 591.1,482.3 594.5,487.4 597.9,486.6 601.4,490.9 604.5,500.0 612.9,513.8 623.2,532.7 631.8,541.3 635.2,556.7 642.1,563.6 643.8,577.4 650.7,575.7 655.9,580.8 659.3,577.4 662.7,594.6 671.3,594.6 681.6,603.2 688.5,599.7 695.4,601.5 702.3,593.7 705.7,613.5 710.3,620.8 715.5,632.9 724.1,624.3 729.2,641.5 734.4,643.2 739.6,646.6 743.0,656.9 745.6,668.1 751.6,672.4 758.5,684.5 765.3,691.3 772.2,696.5 778.2,705.1 780.0,715.4 781.0,769.4 784.7,771.1 795.0,776.3 805.3,784.9 810.5,790.1 817.4,801.2 829.4,800.4 843.2,800.4 847.5,798.7 851.8,801.2 858.7,805.5 870.7,807.3 875.9,804.7 882.7,807.3 891.3,808.1 896.5,810.7 904.2,815.9 906.0,834.8 910.2,837.3 918.8,839.1 925.2,840.8 935.5,834.8 940.6,844.3 951.0,846.8 959.6,840.8 964.7,845.1 976.7,845.1 992.2,844.3 1000.0,838.2 1007.7,838.2 1021.5,836.5 1028.3,827.1 1040.4,822.8 1057.6,823.6 1067.9,820.2 1081.6,816.7 1092.0,817.6 1104.0,815.9 1117.2,817.4 1129.2,817.4 1136.1,808.8 1143.0,804.5 1149.9,801.0 1156.7,805.3 1161.0,809.6 1168.8,806.2 1172.2,795.0 1179.1,791.6 1186.0,795.9 1192.9,795.0 1198.0,792.5 1216.9,792.5 1220.4,783.0 1223.8,775.3 1232.4,775.3 1241.0,770.1 1250.5,766.7 1258.2,771.0 1268.5,773.5 1275.4,771.8 1285.7,776.1 1293.8,770.5 1305.8,775.6 1314.4,780.8 1323.0,783.4 1335.0,784.2 1343.6,771.3 1352.2,766.2 1360.8,767.0 1371.1,771.3 1386.6,769.6 1391.8,766.2 1400.4,775.6 1409.0,772.2 1417.6,769.6 1426.2,774.8 1437.4,772.2 1441.6,781.6 1445.2,792.2 1450.3,807.7 1460.6,805.1 1467.5,812.9 1476.1,825.8 1491.6,819.7 1505.3,812.9 1522.5,798.2 1532.9,787.1 1543.2,775.9 1560.4,775.9 1570.7,781.9 1586.2,793.1 1598.2,804.3 1610.2,804.3 1620.6,812.9 1630.0,820.2 1648.9,796.9 1667.8,788.3 1683.3,781.5 1703.9,781.5 1722.8,761.7 1741.7,741.9 1757.2,764.3 1759.8,764.3" fill="none" stroke="#0000ff" stroke-width="4" stroke-linejoin="round"/>
<path d="M219.05 1015.80v-15.5M219.05 58.00v15.5M368.80 1015.80v-15.5M368.80 58.00v15.5M520.05 1015.80v-15.5M520.05 58.00v15.5M669.85 1015.80v-15.5M669.85 58.00v15.5M821.00 1015.80v-15.5M821.00 58.00v15.5M971.00 1015.80v-15.5M971.00 58.00v15.5M1120.50 1015.80v-15.5M1120.50 58.00v15.5M1271.90 1015.80v-15.5M1271.90 58.00v15.5M1421.40 1015.80v-15.5M1421.40 58.00v15.5M1572.75 1015.80v-15.5M1572.75 58.00v15.5M1722.50 1015.80v-15.5M1722.50 58.00v15.5M144.20 825.50h15.5M1797.30 825.50h-15.5M144.20 633.40h15.5M1797.30 633.40h-15.5M144.20 441.90h15.5M1797.30 441.90h-15.5M144.20 249.85h15.5M1797.30 249.85h-15.5" fill="none" stroke="#262626" stroke-width="1.8"/>
<rect x="144.2" y="58.0" width="1653.10" height="957.80" fill="none" stroke="#262626" stroke-width="1.8"/>
<text x="129.0" y="1035.3" text-anchor="end" font-family='"Liberation Sans", Arial, Helvetica, sans-serif' font-size="48" fill="#262626">0</text>
<text x="129.0" y="844.0" text-anchor="end" font-family='"Liberation Sans", Arial, Helvetica, sans-serif' font-size="48" fill="#262626">0.1</text>
<text x="129.0" y="651.6" text-anchor="end" font-family='"Liberation Sans", Arial, Helvetica, sans-serif' font-size="48" fill="#262626">0.2</text>
<text x="129.0" y="460.0" text-anchor="end" font-family='"Liberation Sans", Arial, Helvetica, sans-serif' font-size="48" fill="#262626">0.3</text>
<text x="129.0" y="268.0" text-anchor="end" font-family='"Liberation Sans", Arial, Helvetica, sans-serif' font-size="48" fill="#262626">0.4</text>
<text x="129.0" y="75.7" text-anchor="end" font-family='"Liberation Sans", Arial, Helvetica, sans-serif' font-size="48" fill="#262626">0.5</text>
<text x="217.9" y="1081.0" text-anchor="middle" font-family='"Liberation Sans", Arial, Helvetica, sans-serif' font-size="48" fill="#262626">50</text>
<text x="368.8" y="1081.0" text-anchor="middle" font-family='"Liberation Sans", Arial, Helvetica, sans-serif' font-size="48" fill="#262626">60</text>
<text x="520.0" y="1081.0" text-anchor="middle" font-family='"Liberation Sans", Arial, Helvetica, sans-serif' font-size="48" fill="#262626">70</text>
<text x="669.9" y="1081.0" text-anchor="middle" font-family='"Liberation Sans", Arial, Helvetica, sans-serif' font-size="48" fill="#262626">80</text>
<text x="821.0" y="1081.0" text-anchor="middle" font-family='"Liberation Sans", Arial, Helvetica, sans-serif' font-size="48" fill="#262626">90</text>
<text x="971.0" y="1081.0" text-anchor="middle" font-family='"Liberation Sans", Arial, Helvetica, sans-serif' font-size="48" fill="#262626">100</text>
<text x="1120.5" y="1081.0" text-anchor="middle" font-family='"Liberation Sans", Arial, Helvetica, sans-serif' font-size="48" fill="#262626">110</text>
<text x="1271.9" y="1081.0" text-anchor="middle" font-family='"Liberation Sans", Arial, Helvetica, sans-serif' font-size="48" fill="#262626">120</text>
<text x="1421.4" y="1081.0" text-anchor="middle" font-family='"Liberation Sans", Arial, Helvetica, sans-serif' font-size="48" fill="#262626">130</text>
<text x="1572.8" y="1081.0" text-anchor="middle" font-family='"Liberation Sans", Arial, Helvetica, sans-serif' font-size="48" fill="#262626">140</text>
<text x="1723.3" y="1081.0" text-anchor="middle" font-family='"Liberation Sans", Arial, Helvetica, sans-serif' font-size="48" fill="#262626">150</text>
<text x="971.5" y="39.4" text-anchor="middle" font-family='"Liberation Sans", Arial, Helvetica, sans-serif' font-weight="bold" font-size="52.8" fill="#000">Comparison of MY 34 Mean Phase Functions</text>
<text x="742.3" y="1149.5" font-family='"Liberation Sans", Arial, Helvetica, sans-serif' font-size="53" fill="#262626">Scattering Angle (</text>
<text x="1172.3" y="1144.9" text-anchor="middle" font-family='"Liberation Sans", Arial, Helvetica, sans-serif' font-size="47.5" fill="#262626">°</text>
<text x="1184.5" y="1149.5" font-family='"Liberation Sans", Arial, Helvetica, sans-serif' font-size="53" fill="#262626">)</text>
<text transform="translate(40.3 846.6) rotate(-90)" x="0" y="0" font-family='"Liberation Sans", Arial, Helvetica, sans-serif' font-size="52.7" fill="#262626">Scattering Phase Function</text>
<rect x="747.6" y="82.1" width="1025.5" height="101.5" fill="#fff" stroke="#262626" stroke-width="1.8"/>
<path d="M755.2 108.9H845.4" stroke="#000" stroke-width="4.2" stroke-dasharray="18.6 17"/>
<path d="M755.2 156.9H845.4" stroke="#0000ff" stroke-width="3.9"/>
<text x="851.4" y="124.8" font-family='"Liberation Sans", Arial, Helvetica, sans-serif' font-size="36" fill="#000">MY 34 MCS-derived Phase Function (Cooper et al, 2019)</text>
<text x="851.4" y="170.9" font-family='"Liberation Sans", Arial, Helvetica, sans-serif' font-size="36" fill="#000">MY 34 MSL-derieved Phse Function</text>
</svg>
</body></html>
